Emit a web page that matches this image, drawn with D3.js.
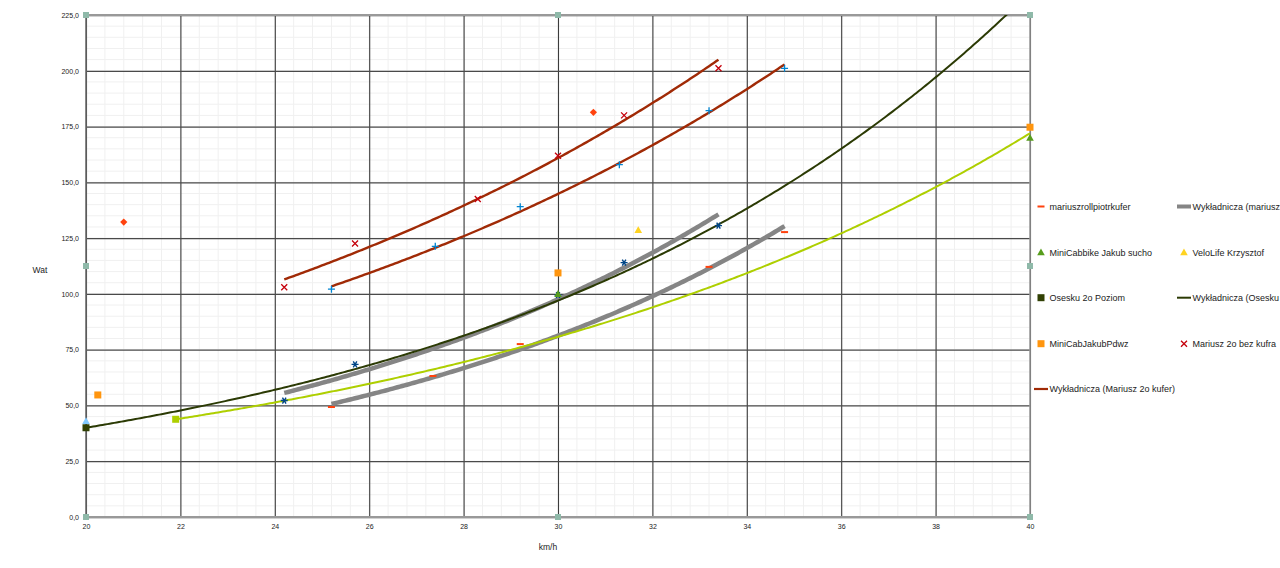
<!DOCTYPE html>
<html><head><meta charset="utf-8">
<script src="https://cdn.jsdelivr.net/npm/d3@7"></script>
<style>body{margin:0;background:#fff;} svg{display:block;font-family:"Liberation Sans",Arial,sans-serif;}</style>
</head><body><svg id="c" width="1280" height="568"></svg>
<script>
// ---- tick labels ----
const xTickValues = [20,22,24,26,28,30,32,34,36,38,40];
const yTickValues = [0,25,50,75,100,125,150,175,200,225];

// ---- series values (km/h, Wat) ----
const mariuszRoll      = [[25.2,49.3],[27.35,63.2],[29.2,77.5],[33.2,112.1],[34.8,127.7]];
const mariuszBezKufra  = [[24.2,103],[25.7,122.6],[28.3,142.5],[30,161.9],[31.4,180],[33.4,201.1]];
const mariuszKufer     = [[25.2,102.1],[27.4,121.3],[29.2,139.1],[31.3,157.9],[33.2,182.1],[34.8,201.1]];
const asteriskSeries   = [[24.2,52.2],[25.7,68.4],[30,99.5],[31.4,114],[33.4,130.6]];
const diamondSeries    = [[20.8,132.2],[30.75,181.4]];
const miniCabbike      = [[30,100],[40,170]];
const veloLife         = [[31.7,128.6]];
const osesku           = [[20,40]];
const miniCabPdwz      = [[20.25,54.7],[30,109.4],[40,174.7]];
const lightBlueSeries  = [[20,43]];
const yellowGreenSeries= [[21.9,43.8]];
const frameSeries      = [[20,0],[20,112.5],[20,225],[30,0],[30,225],[40,0],[40,112.5],[40,225]];
// trend curves whose source points are hidden: values read at the curve ends
const oseskuTrendPts      = [[20,40],[30,97]];
const yellowGreenTrendPts = [[21.9,43.8],[40,172]];

const svg = d3.select("#c");
const x = d3.scaleLinear().domain([20,40]).range([86,1030]);
const y = d3.scaleLinear().domain([0,225]).range([517,15]);

// minor grid
const g = svg.append("g");
g.selectAll(".mx").data(d3.range(20,40.01,0.4)).join("line")
  .attr("x1",d=>x(d)).attr("x2",d=>x(d)).attr("y1",y(0)).attr("y2",y(225))
  .attr("stroke","#f0f0f0").attr("stroke-width",1);
g.selectAll(".my").data(d3.range(0,225.01,5)).join("line")
  .attr("y1",d=>y(d)).attr("y2",d=>y(d)).attr("x1",x(20)).attr("x2",x(40))
  .attr("stroke","#f0f0f0").attr("stroke-width",1);

// major grid via axes
const xAxisGrid = d3.axisBottom(x).tickValues(xTickValues).tickSize(-(y(0)-y(225))).tickFormat("");
svg.append("g").attr("transform",`translate(0,${y(0)})`).call(xAxisGrid)
  .call(s=>s.select(".domain").remove())
  .call(s=>s.selectAll("line").attr("stroke","#3c3c3c").attr("stroke-width",1.1));
const yAxisGrid = d3.axisLeft(y).tickValues(yTickValues).tickSize(-(x(40)-x(20))).tickFormat("");
svg.append("g").attr("transform",`translate(${x(20)},0)`).call(yAxisGrid)
  .call(s=>s.select(".domain").remove())
  .call(s=>s.selectAll("line").attr("stroke","#4a4a4a").attr("stroke-width",1.3));

// frame
svg.append("line").attr("x1",x(20)).attr("x2",x(40)).attr("y1",y(0)).attr("y2",y(0)).attr("stroke","#999").attr("stroke-width",2);
svg.append("line").attr("x1",x(20)).attr("x2",x(40)).attr("y1",y(225)).attr("y2",y(225)).attr("stroke","#999").attr("stroke-width",2);
svg.append("line").attr("x1",x(20)).attr("x2",x(20)).attr("y1",y(0)).attr("y2",y(225)).attr("stroke","#666").attr("stroke-width",1.5);
svg.append("line").attr("x1",x(40)).attr("x2",x(40)).attr("y1",y(0)).attr("y2",y(225)).attr("stroke","#999").attr("stroke-width",1.5);

// tick labels
const fmt = d => d3.format(".1f")(d).replace(".",",");
svg.append("g").attr("transform",`translate(${x(20)-4},0)`)
  .call(d3.axisLeft(y).tickValues(yTickValues).tickSize(0).tickFormat(fmt))
  .call(s=>s.select(".domain").remove())
  .call(s=>s.selectAll("text").attr("font-size",7).attr("fill","#222").attr("font-family","Liberation Sans, Arial, sans-serif"));
svg.append("g").attr("transform",`translate(0,${y(0)+4})`)
  .call(d3.axisBottom(x).tickValues(xTickValues).tickSize(0).tickFormat(d=>d))
  .call(s=>s.select(".domain").remove())
  .call(s=>s.selectAll("text").attr("font-size",7).attr("fill","#222").attr("font-family","Liberation Sans, Arial, sans-serif"));

// axis titles
svg.append("text").attr("x",40).attr("y",273).attr("text-anchor","middle").attr("font-size",8.5).attr("fill","#222").text("Wat");
svg.append("text").attr("x",548).attr("y",550).attr("text-anchor","middle").attr("font-size",8.5).attr("fill","#222").text("km/h");

// exponential regression (least squares on ln y)
function expFit(pts){
  const mx=d3.mean(pts,p=>p[0]), my=d3.mean(pts,p=>Math.log(p[1]));
  let sxy=0,sxx=0; pts.forEach(p=>{sxy+=(p[0]-mx)*(Math.log(p[1])-my); sxx+=(p[0]-mx)**2;});
  const b=sxy/sxx, a=Math.exp(my-b*mx); return {a,b};
}
svg.append("clipPath").attr("id","plot").append("rect").attr("x",x(20)).attr("y",y(225)).attr("width",x(40)-x(20)).attr("height",y(0)-y(225));
const lineGen = d3.line().x(d=>x(d[0])).y(d=>y(d[1]));
function trend(src, x0, x1, color, width){
  const f=expFit(src);
  const pts=[]; for(let v=x0; v<=x1+1e-9; v+=0.05) pts.push([v, f.a*Math.exp(f.b*v)]);
  pts.push([x1, f.a*Math.exp(f.b*x1)]);
  svg.append("path").attr("clip-path","url(#plot)").attr("d",lineGen(pts)).attr("fill","none")
    .attr("stroke",color).attr("stroke-width",width).attr("stroke-linecap","butt");
}
const ext = s => d3.extent(s,p=>p[0]);
trend(asteriskSeries, ...ext(asteriskSeries), "#858585", 4.5);
trend(mariuszRoll, ...ext(mariuszRoll), "#858585", 4.5);
trend(oseskuTrendPts, 20, 40, "#2b3a04", 2);
trend(yellowGreenTrendPts, 21.9, 40, "#aecf00", 2);
trend(mariuszBezKufra, ...ext(mariuszBezKufra), "#a02a06", 2.4);
trend(mariuszKufer, ...ext(mariuszKufer), "#a02a06", 2.4);

// marker drawing
function marker(sel, type, color, cx, cy){
  const gg = sel.append("g").attr("transform",`translate(${cx},${cy})`);
  if(type==="square") gg.append("rect").attr("x",-3.5).attr("y",-3.5).attr("width",7).attr("height",7).attr("fill",color);
  else if(type==="smallsquare") gg.append("rect").attr("x",-3).attr("y",-3).attr("width",6).attr("height",6).attr("fill",color);
  else if(type==="dash") gg.append("rect").attr("x",-3.5).attr("y",-1).attr("width",7).attr("height",2).attr("fill",color);
  else if(type==="diamond") gg.append("path").attr("d","M0,-3.6L3.6,0L0,3.6L-3.6,0Z").attr("fill",color);
  else if(type==="triangle") gg.append("path").attr("d","M0,-3.8L3.8,3L-3.8,3Z").attr("fill",color);
  else if(type==="x") gg.append("path").attr("d","M-3,-3L3,3M3,-3L-3,3").attr("stroke",color).attr("stroke-width",1.3);
  else if(type==="plus") gg.append("path").attr("d","M-3.5,0L3.5,0M0,-3.5L0,3.5").attr("stroke",color).attr("stroke-width",1.3);
  else if(type==="asterisk") gg.append("path").attr("d","M-3.5,0L3.5,0M-1.8,-3L1.8,3M1.8,-3L-1.8,3").attr("stroke",color).attr("stroke-width",1.4);
}
const marks = svg.append("g");
function drawSeries(data,type,color){ data.forEach(p=>marker(marks,type,color,x(p[0]),y(p[1]))); }
drawSeries(frameSeries,"smallsquare","#8fb9a9");
drawSeries(osesku,"square","#314004");
drawSeries(yellowGreenSeries,"square","#aecf00");
drawSeries(lightBlueSeries,"triangle","#83caff");
drawSeries(miniCabPdwz,"square","#ff950e");
drawSeries(asteriskSeries,"asterisk","#004586");
drawSeries(miniCabbike,"triangle","#579d1c");
drawSeries(veloLife,"triangle","#ffd320");
drawSeries(diamondSeries,"diamond","#ff420e");
drawSeries(mariuszRoll,"dash","#ff420e");
drawSeries(mariuszBezKufra,"x","#c5000b");
drawSeries(mariuszKufer,"plus","#0084d1");

// legend
const legendItems = [
  {col:0,row:0,kind:"dash",color:"#ff420e",label:"mariuszrollpiotrkufer"},
  {col:1,row:0,kind:"line",color:"#858585",w:4,label:"Wykładnicza (mariuszrollpiotrkufer)"},
  {col:0,row:1,kind:"triangle",color:"#579d1c",label:"MiniCabbike Jakub sucho"},
  {col:1,row:1,kind:"triangle",color:"#ffd320",label:"VeloLife Krzysztof"},
  {col:0,row:2,kind:"square",color:"#314004",label:"Osesku 2o Poziom"},
  {col:1,row:2,kind:"line",color:"#2b3a04",w:2,label:"Wykładnicza (Osesku 2o Poziom)"},
  {col:0,row:3,kind:"square",color:"#ff950e",label:"MiniCabJakubPdwz"},
  {col:1,row:3,kind:"x",color:"#c5000b",label:"Mariusz 2o bez kufra"},
  {col:0,row:4,kind:"line",color:"#a02a06",w:2.2,label:"Wykładnicza (Mariusz 2o kufer)"}
];
const colX=[1041,1184], rowY=[206.5,252.3,297.7,343.7,389];
const lg = svg.append("g");
legendItems.forEach(it=>{
  const cx=colX[it.col], cy=rowY[it.row];
  if(it.kind==="line") lg.append("line").attr("x1",cx-7).attr("x2",cx+7).attr("y1",cy).attr("y2",cy).attr("stroke",it.color).attr("stroke-width",it.w);
  else marker(lg,it.kind,it.color,cx,cy);
  lg.append("text").attr("x",cx+8.5).attr("y",cy+3.2).attr("font-size",9).attr("fill","#222").text(it.label);
});
</script></body></html>
